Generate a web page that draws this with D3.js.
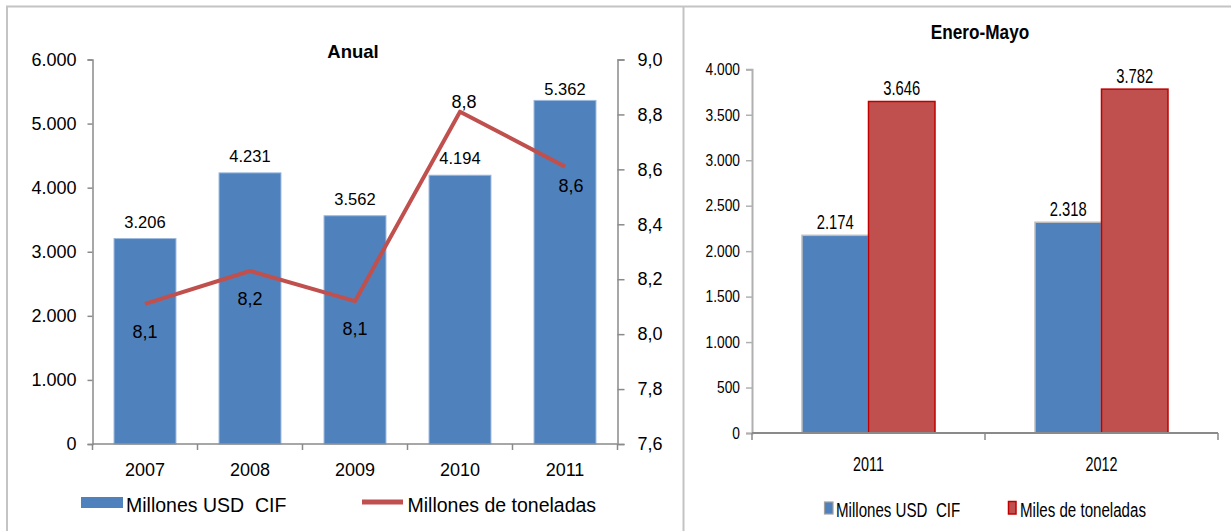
<!DOCTYPE html>
<html><head><meta charset="utf-8">
<script src="https://cdn.jsdelivr.net/npm/d3@7"></script>
<style>
html,body{margin:0;padding:0;background:#fff;}
text{font-family:"Liberation Sans",Arial,sans-serif;fill:#000;}
</style></head>
<body>
<svg id="c" width="1231" height="531"></svg>
<script>
// ---- Data ----
const years = ["2007","2008","2009","2010","2011"];
const usdCif = [3206, 4231, 3562, 4194, 5362];          // Millones USD CIF
const toneladas = [8.11, 8.23, 8.12, 8.81, 8.61];        // Millones de toneladas
const lineLabelPlacement = ["below","below","below","above","belowRight"];
const leftTicks = [0,1000,2000,3000,4000,5000,6000];
const rightTicks = [7.6,7.8,8.0,8.2,8.4,8.6,8.8,9.0];

const periods = ["2011","2012"];
const seriesNames = ["Millones USD  CIF","Miles de toneladas"];
const emUsd = [2174, 2318];
const emTon = [3646, 3782];
const emTicks = [0,500,1000,1500,2000,2500,3000,3500,4000];

const blue = "#4F81BD", red = "#C0504D";
const loc = d3.formatLocale({decimal:",", thousands:".", grouping:[3], currency:["",""]});
const fInt = loc.format(",d"), f1 = loc.format(".1f");

const svg = d3.select("#c");
// panel borders
const border = "#C4C4C4";
svg.append("line").attr("x1",6).attr("x2",1231).attr("y1",6.5).attr("y2",6.5).attr("stroke",border).attr("stroke-width",2);
svg.append("line").attr("x1",7).attr("x2",7).attr("y1",6).attr("y2",531).attr("stroke",border).attr("stroke-width",2);
svg.append("line").attr("x1",683.5).attr("x2",683.5).attr("y1",6).attr("y2",531).attr("stroke",border).attr("stroke-width",2);

// ================= LEFT CHART =================
const L = {x0:92.5, x1:617.5, y0:444, y1:59.5};
const xL = d3.scaleBand().domain(years).range([L.x0,L.x1]).paddingInner(0.41).paddingOuter(0.205);
const yL = d3.scaleLinear().domain([0,6000]).range([L.y0,L.y1]);
const yR = d3.scaleLinear().domain([7.6,9.0]).range([L.y0,L.y1]);
const axisCol = "#8A8A8A";
const gL = svg.append("g");

gL.append("text").attr("x",353).attr("y",58).attr("text-anchor","middle")
  .attr("font-weight","bold").attr("font-size",18.5).text("Anual");

// bars
gL.selectAll("rect.b").data(years).join("rect")
  .attr("x",d=>xL(d)).attr("width",xL.bandwidth())
  .attr("y",(d,i)=>yL(usdCif[i])).attr("height",(d,i)=>yL(0)-yL(usdCif[i]))
  .attr("fill",blue).attr("stroke","#9DB9DD").attr("stroke-width",1);

// axes
const axL = d3.axisLeft(yL).tickValues(leftTicks).tickFormat(fInt).tickSize(5).tickPadding(11);
const gAL = gL.append("g").attr("transform",`translate(${L.x0},0)`).call(axL);
const axR = d3.axisRight(yR).tickValues(rightTicks).tickFormat(f1).tickSize(7).tickPadding(13);
const gAR = gL.append("g").attr("transform",`translate(${L.x1},0)`).call(axR);
[gAL,gAR].forEach(g=>{
  g.select(".domain").attr("stroke",axisCol).attr("stroke-width",1.5);
  g.selectAll(".tick line").attr("stroke",axisCol).attr("stroke-width",1.5);
  g.selectAll(".tick text").attr("font-size",18).attr("fill","#000")
   .attr("font-family","'Liberation Sans',Arial,sans-serif");
});
// x axis with ticks between categories
const xLin = d3.scaleLinear().domain([0,years.length]).range([L.x0,L.x1]);
const gX = gL.append("g");
gX.append("line").attr("x1",L.x0).attr("x2",L.x1).attr("y1",L.y0).attr("y2",L.y0).attr("stroke",axisCol).attr("stroke-width",1.5);
gX.selectAll("line.t").data(d3.range(years.length+1)).join("line")
  .attr("x1",d=>xLin(d)).attr("x2",d=>xLin(d)).attr("y1",L.y0).attr("y2",L.y0+6)
  .attr("stroke",axisCol).attr("stroke-width",1.5);
gX.selectAll("text").data(years).join("text")
  .attr("x",d=>xL(d)+xL.bandwidth()/2).attr("y",475.5).attr("text-anchor","middle")
  .attr("font-size",18).text(d=>d);

// bar labels
gL.selectAll("text.bl").data(years).join("text")
  .attr("x",d=>xL(d)+xL.bandwidth()/2)
  .attr("y",(d,i)=>yL(usdCif[i]) - (yL(usdCif[i])<110 ? 5 : 11))
  .attr("text-anchor","middle").attr("font-size",16.5).text((d,i)=>fInt(usdCif[i]));

// line
const cx = d=>xL(d)+xL.bandwidth()/2;
const line = d3.line().x((d,i)=>cx(years[i])).y(d=>yR(d));
gL.append("path").datum(toneladas).attr("d",line).attr("fill","none")
  .attr("stroke",red).attr("stroke-width",4).attr("stroke-linejoin","round");
const place = {below:[0,34], above:[4,-4], belowRight:[6,25]};
gL.selectAll("text.ll").data(toneladas).join("text")
  .attr("x",(d,i)=>cx(years[i])+place[lineLabelPlacement[i]][0])
  .attr("y",(d,i)=>yR(d)+place[lineLabelPlacement[i]][1])
  .attr("text-anchor","middle").attr("font-size",18).text(d=>f1(d));

// legend
gL.append("rect").attr("x",81).attr("y",497).attr("width",42).attr("height",11).attr("fill",blue);
gL.append("text").attr("x",126).attr("y",511.5).attr("font-size",19.5)
  .style("white-space","pre").text("Millones USD  CIF");
gL.append("line").attr("x1",362).attr("x2",403).attr("y1",502).attr("y2",502).attr("stroke",red).attr("stroke-width",5);
gL.append("text").attr("x",407.5).attr("y",511.5).attr("font-size",19.5).text("Millones de toneladas");

// ================= RIGHT CHART =================
const R = {x0:752, x1:1218, y0:433, y1:69.3};
const x0 = d3.scaleBand().domain(periods).range([R.x0,R.x1]);
const x1 = d3.scaleBand().domain(seriesNames).range([0,x0.bandwidth()]).paddingOuter(0.752).paddingInner(0);
const y2 = d3.scaleLinear().domain([0,4000]).range([R.y0,R.y1]);
const gR = svg.append("g");

function sText(g,x,y,txt,size,sx,anchor,bold){
  const t = g.append("text").attr("transform",`translate(${x},${y}) scale(${sx},1)`)
    .attr("text-anchor",anchor||"middle").attr("font-size",size).style("white-space","pre").text(txt);
  if(bold) t.attr("font-weight","bold");
  return t;
}
sText(gR,980,39,"Enero-Mayo",20,0.86,"middle",true);

// y axis
const ay2 = d3.axisLeft(y2).tickValues(emTicks).tickFormat(fInt).tickSize(6).tickPadding(0);
const gAy = gR.append("g").attr("transform",`translate(${R.x0},0)`).call(ay2);
gAy.select(".domain").attr("stroke","#B0B0B0").attr("stroke-width",2);
gAy.selectAll(".tick line").attr("stroke","#B0B0B0").attr("stroke-width",1.5);
gAy.selectAll(".tick text").remove();
emTicks.forEach(v=>{
  sText(gR,R.x0-12,y2(v)+5.8,fInt(v),16,0.86,"end");
});

// bars
const vals = [emUsd, emTon];
const groups = gR.selectAll("g.grp").data(periods).join("g").attr("transform",d=>`translate(${x0(d)},0)`);
groups.each(function(p,pi){
  const g = d3.select(this);
  seriesNames.forEach((s,si)=>{
    const v = vals[si][pi];
    g.append("rect").attr("x",x1(s)).attr("width",x1.bandwidth())
      .attr("y",y2(v)).attr("height",y2(0)-y2(v))
      .attr("fill",si===0?blue:red)
      .attr("stroke",si===0?"#BDBDBD":"#C00000").attr("stroke-width",1.5);
    sText(g,x1(s)+x1.bandwidth()/2,y2(v)-6,fInt(v),20,0.74,"middle");
  });
});

// x axis
gR.append("line").attr("x1",R.x0).attr("x2",R.x1).attr("y1",R.y0).attr("y2",R.y0).attr("stroke","#8A8A8A").attr("stroke-width",2);
const xt = d3.scaleLinear().domain([0,periods.length]).range([R.x0,R.x1]);
gR.selectAll("line.xt").data(d3.range(periods.length+1)).join("line")
  .attr("x1",d=>xt(d)).attr("x2",d=>xt(d)).attr("y1",R.y0).attr("y2",R.y0+7)
  .attr("stroke","#8A8A8A").attr("stroke-width",1.5);
periods.forEach(p=>{
  sText(gR,x0(p)+x0.bandwidth()/2,471,p,20,0.72,"middle");
});

// legend
gR.append("rect").attr("x",824.5).attr("y",502).attr("width",8.5).attr("height",12)
  .attr("fill",blue).attr("stroke","#A0A0A0").attr("stroke-width",1.2);
sText(gR,836,517,seriesNames[0],21,0.72,"start");
gR.append("rect").attr("x",1008.5).attr("y",501.5).attr("width",7.5).attr("height",12.5)
  .attr("fill",red).attr("stroke","#C00000").attr("stroke-width",1.5);
sText(gR,1020,517,seriesNames[1],21,0.72,"start");
</script>
</body></html>
